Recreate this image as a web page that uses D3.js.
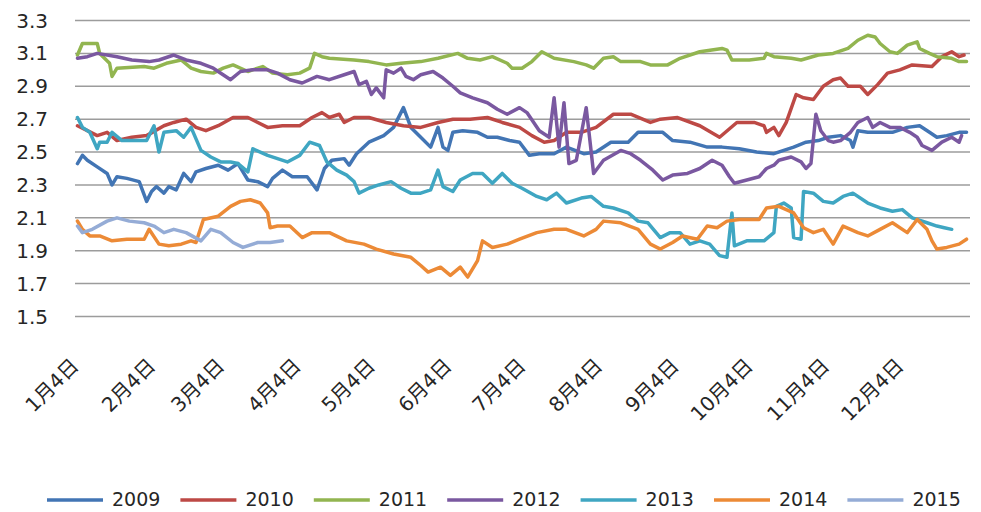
<!DOCTYPE html>
<html><head><meta charset="utf-8">
<script src="https://cdn.jsdelivr.net/npm/d3@7"></script>
<style>
html,body{margin:0;padding:0;background:#fff;}
text{font-family:"DejaVu Sans","Noto Sans CJK SC",sans-serif;fill:#262626;}
</style></head>
<body><svg id="c" width="981" height="512"></svg>
<script>
// x = day of year (Jan 4 = 4), y = value
const yTicks = [1.5,1.7,1.9,2.1,2.3,2.5,2.7,2.9,3.1,3.3];
const xTickDays = [4,35,63,94,124,155,185,216,247,277,308,338];
const xTickLabels = ["1月4日","2月4日","3月4日","4月4日","5月4日","6月4日","7月4日","8月4日","9月4日","10月4日","11月4日","12月4日"];
const seriesNames = ["2009","2010","2011","2012","2013","2014","2015"];
const seriesColors = ["#4275b4","#bd4945","#92b550","#7a58a0","#3fa6c2","#ec8a36","#95acd6"];

const s2009 = [[5,2.43],[7,2.48],[9,2.45],[13,2.41],[17,2.37],[19,2.30],[21,2.35],[25,2.34],[30,2.32],[33,2.20],[35,2.26],[37,2.29],[40,2.25],[42,2.29],[45,2.27],[48,2.37],[51,2.32],[53,2.38],[57,2.40],[62,2.42],[66,2.39],[70,2.43],[74,2.33],[78,2.32],[82,2.29],[84,2.34],[88,2.39],[92,2.35],[98,2.35],[102,2.27],[105,2.40],[108,2.45],[113,2.46],[115,2.42],[118,2.49],[123,2.56],[129,2.60],[133,2.65],[137,2.77],[140,2.65],[144,2.59],[148,2.53],[151,2.65],[153,2.53],[155,2.51],[157,2.62],[161,2.63],[167,2.62],[171,2.59],[175,2.59],[180,2.57],[184,2.56],[188,2.48],[192,2.49],[198,2.49],[203,2.53],[210,2.49],[215,2.50],[221,2.56],[228,2.56],[232,2.62],[236,2.62],[242,2.62],[246,2.57],[253,2.56],[260,2.53],[266,2.53],[273,2.52],[280,2.50],[287,2.49],[291,2.51],[295,2.53],[300,2.56],[305,2.57],[309,2.59],[314,2.60],[318,2.57],[319,2.53],[321,2.63],[325,2.62],[330,2.62],[335,2.62],[341,2.65],[346,2.66],[350,2.62],[353,2.59],[357,2.60],[362,2.62],[365,2.62]];
const s2010 = [[5,2.66],[9,2.63],[13,2.60],[17,2.62],[21,2.57],[27,2.59],[33,2.60],[40,2.66],[44,2.68],[49,2.70],[53,2.65],[57,2.63],[62,2.66],[68,2.71],[74,2.71],[82,2.65],[88,2.66],[95,2.66],[100,2.71],[104,2.74],[107,2.71],[111,2.73],[113,2.68],[117,2.71],[123,2.71],[130,2.68],[137,2.66],[144,2.65],[151,2.68],[157,2.70],[164,2.70],[171,2.71],[177,2.68],[184,2.65],[189,2.60],[194,2.56],[198,2.57],[203,2.62],[209,2.62],[215,2.65],[222,2.73],[229,2.73],[237,2.68],[241,2.70],[248,2.71],[257,2.66],[265,2.59],[272,2.68],[279,2.68],[283,2.66],[284,2.62],[287,2.65],[289,2.60],[292,2.68],[296,2.85],[299,2.83],[303,2.82],[307,2.90],[311,2.94],[314,2.95],[317,2.90],[322,2.90],[325,2.85],[329,2.91],[333,2.98],[338,3.00],[343,3.03],[351,3.02],[355,3.08],[359,3.11],[362,3.08],[364,3.09]];
const s2011 = [[5,3.09],[7,3.16],[13,3.16],[14,3.10],[18,3.04],[19,2.96],[21,3.01],[32,3.02],[36,3.01],[41,3.04],[47,3.06],[51,3.01],[55,2.99],[60,2.98],[64,3.01],[68,3.03],[74,2.99],[80,3.02],[84,2.98],[90,2.97],[95,2.98],[99,3.01],[101,3.10],[104,3.08],[107,3.07],[117,3.06],[123,3.05],[130,3.03],[136,3.04],[144,3.05],[151,3.07],[159,3.10],[163,3.07],[168,3.06],[173,3.08],[179,3.04],[181,3.01],[185,3.01],[189,3.05],[193,3.11],[198,3.07],[206,3.05],[211,3.03],[214,3.01],[218,3.07],[222,3.08],[225,3.05],[233,3.05],[237,3.03],[244,3.03],[249,3.07],[257,3.11],[266,3.13],[268,3.12],[270,3.06],[277,3.06],[283,3.07],[284,3.10],[287,3.08],[294,3.07],[298,3.06],[305,3.09],[311,3.10],[317,3.13],[321,3.18],[325,3.21],[328,3.20],[330,3.16],[334,3.11],[337,3.10],[341,3.15],[345,3.17],[346,3.13],[350,3.10],[353,3.08],[359,3.07],[362,3.05],[365,3.05]];
const s2012 = [[5,3.07],[9,3.08],[13,3.10],[21,3.08],[27,3.06],[34,3.05],[38,3.06],[44,3.09],[49,3.06],[55,3.04],[60,3.01],[67,2.94],[71,2.99],[76,3.00],[82,3.00],[86,2.98],[91,2.94],[96,2.92],[102,2.96],[107,2.94],[113,2.97],[117,2.99],[119,2.91],[122,2.93],[124,2.85],[126,2.89],[129,2.83],[130,3.00],[133,2.98],[136,3.01],[138,2.96],[141,2.94],[144,2.97],[149,2.99],[153,2.95],[157,2.90],[160,2.86],[165,2.83],[171,2.80],[175,2.76],[179,2.73],[184,2.77],[187,2.74],[192,2.63],[196,2.59],[198,2.83],[200,2.53],[202,2.80],[204,2.43],[207,2.45],[211,2.77],[214,2.37],[218,2.45],[225,2.51],[229,2.49],[233,2.45],[238,2.39],[242,2.33],[246,2.36],[252,2.37],[257,2.40],[262,2.45],[266,2.42],[269,2.35],[271,2.31],[276,2.33],[281,2.35],[284,2.40],[287,2.42],[289,2.45],[294,2.47],[298,2.44],[300,2.40],[302,2.43],[304,2.73],[306,2.63],[309,2.57],[311,2.56],[314,2.57],[318,2.62],[321,2.68],[325,2.71],[327,2.65],[330,2.68],[334,2.65],[338,2.65],[342,2.62],[345,2.59],[347,2.54],[351,2.51],[355,2.56],[359,2.59],[362,2.56],[363,2.60]];
const s2013 = [[5,2.71],[7,2.65],[10,2.62],[13,2.52],[14,2.56],[17,2.56],[19,2.62],[23,2.57],[27,2.57],[33,2.57],[36,2.66],[38,2.50],[40,2.62],[45,2.63],[48,2.59],[51,2.65],[55,2.51],[59,2.47],[63,2.44],[67,2.44],[70,2.43],[74,2.38],[76,2.52],[82,2.48],[86,2.46],[90,2.44],[95,2.48],[99,2.56],[103,2.54],[106,2.44],[110,2.39],[114,2.36],[117,2.32],[119,2.25],[123,2.28],[127,2.30],[132,2.32],[136,2.28],[140,2.25],[144,2.25],[148,2.27],[151,2.39],[153,2.29],[157,2.26],[160,2.33],[165,2.37],[169,2.37],[173,2.31],[177,2.37],[181,2.31],[185,2.28],[191,2.23],[195,2.21],[199,2.25],[203,2.19],[209,2.22],[213,2.23],[218,2.17],[222,2.16],[228,2.13],[232,2.08],[236,2.07],[241,1.98],[245,2.01],[249,2.01],[253,1.94],[257,1.96],[261,1.94],[265,1.87],[268,1.86],[270,2.13],[271,1.93],[276,1.96],[283,1.96],[287,2.01],[288,2.17],[291,2.19],[294,2.16],[295,1.98],[298,1.97],[299,2.26],[303,2.25],[307,2.20],[311,2.19],[315,2.23],[319,2.25],[325,2.19],[330,2.16],[335,2.14],[339,2.15],[343,2.10],[349,2.07],[353,2.05],[356,2.04],[359,2.03]];
const s2014 = [[5,2.08],[7,2.03],[10,1.99],[14,1.99],[19,1.96],[25,1.97],[32,1.97],[34,2.03],[38,1.94],[42,1.93],[47,1.94],[51,1.96],[53,1.95],[56,2.09],[62,2.11],[67,2.17],[71,2.20],[75,2.21],[79,2.19],[82,2.13],[83,2.04],[86,2.05],[91,2.05],[96,1.98],[100,2.01],[107,2.01],[114,1.96],[121,1.94],[126,1.91],[133,1.88],[140,1.86],[144,1.81],[147,1.77],[152,1.80],[156,1.75],[160,1.80],[163,1.74],[167,1.84],[169,1.96],[173,1.92],[179,1.94],[184,1.97],[191,2.01],[198,2.03],[203,2.03],[210,1.99],[215,2.03],[218,2.08],[225,2.07],[232,2.03],[237,1.94],[241,1.91],[246,1.95],[250,1.99],[256,1.97],[260,2.05],[264,2.04],[268,2.08],[273,2.09],[281,2.09],[284,2.16],[289,2.17],[295,2.13],[299,2.04],[303,2.01],[307,2.03],[311,1.94],[315,2.05],[321,2.01],[325,1.99],[330,2.03],[335,2.07],[341,2.01],[345,2.09],[349,2.03],[351,1.96],[353,1.91],[357,1.92],[362,1.94],[365,1.97]];
const s2015 = [[5,2.05],[7,2.01],[11,2.03],[17,2.08],[21,2.10],[26,2.08],[32,2.07],[36,2.05],[40,2.01],[44,2.03],[49,2.01],[55,1.96],[59,2.03],[63,2.01],[68,1.95],[72,1.92],[78,1.95],[83,1.95],[88,1.96]];

const allSeries = [s2009,s2010,s2011,s2012,s2013,s2014,s2015];

const svg = d3.select("#c");
const x = d3.scaleLinear().domain([4,366]).range([75,969]);
const y = d3.scaleLinear().domain([1.5,3.3]).range([316.5,20.5]);

// gridlines
svg.append("g").selectAll("line").data(yTicks).join("line")
  .attr("x1",75).attr("x2",970)
  .attr("y1",d=>y(d)).attr("y2",d=>y(d))
  .attr("stroke","#9c9c9c").attr("stroke-width",1.5);

// y labels
svg.append("g").selectAll("text").data(yTicks).join("text")
  .attr("x",48).attr("y",d=>y(d)+7)
  .attr("text-anchor","end").attr("font-size",20)
  .text(d=>d.toFixed(1));

// x labels
svg.append("g").selectAll("text").data(xTickDays).join("text")
  .attr("transform",d=>`translate(${x(d)+5},367) rotate(-45)`)
  .attr("text-anchor","end").attr("font-size",20)
  .text((d,i)=>xTickLabels[i]);

// lines
const line = d3.line().x(d=>x(d[0])).y(d=>y(d[1]));
svg.append("g").selectAll("path").data(allSeries).join("path")
  .attr("d",line).attr("fill","none")
  .attr("stroke",(d,i)=>seriesColors[i])
  .attr("stroke-width",3.5).attr("stroke-linejoin","round").attr("stroke-linecap","round");

// legend
const lg = svg.append("g").selectAll("g").data(seriesNames).join("g")
  .attr("transform",(d,i)=>`translate(${47+i*133.4},500)`);
lg.append("line").attr("x1",0).attr("x2",56).attr("y1",0).attr("y2",0)
  .attr("stroke",(d,i)=>seriesColors[i]).attr("stroke-width",3.5);
lg.append("text").attr("x",65).attr("y",6).attr("font-size",19).text(d=>d);
</script></body></html>
